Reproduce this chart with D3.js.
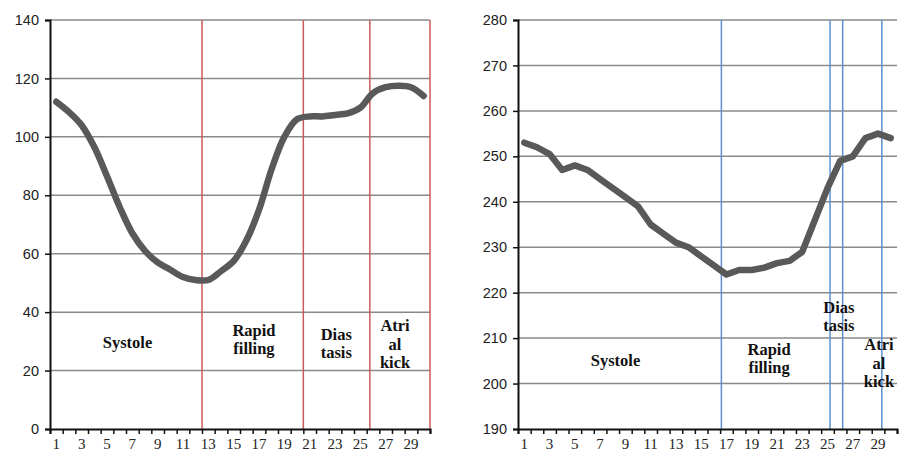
<!DOCTYPE html>
<html><head><meta charset="utf-8">
<script src="https://cdn.jsdelivr.net/npm/d3@7"></script>
<style>
html,body{margin:0;padding:0;background:#fff;}
svg{display:block;}
</style></head>
<body>
<svg id="chart" width="906" height="453"></svg>
<script>
// ---- data ----
const categories = d3.range(1, 31);
const leftValues = [112, 108.5, 104, 96.5, 86.5, 76, 67, 61, 57, 54.5, 52, 51, 51, 54, 57.5, 64.5, 75, 89, 100, 106, 107, 107, 107.5, 108, 110, 115, 117, 117.5, 117, 114];
const rightValues = [253, 252, 250.5, 247, 248, 247, 245, 243, 241, 239, 235, 233, 231, 230, 228, 226, 224, 225, 225, 225.5, 226.5, 227, 229, 236, 243, 249, 250, 254, 255, 254];
const leftYTicks = [0, 20, 40, 60, 80, 100, 120, 140];
const rightYTicks = [190, 200, 210, 220, 230, 240, 250, 260, 270, 280];
const xTickLabels = [1, 3, 5, 7, 9, 11, 13, 15, 17, 19, 21, 23, 25, 27, 29];
// phase boundaries, in category units (0 = left edge of category 1)
const leftPhaseBounds = [12, 20, 25.25, 30];
const rightPhaseBounds = [16.1, 24.7, 25.7, 28.8];
// phase labels: text lines, centre (category units), first baseline (value units)
const leftPhaseLabels = [
  {lines: ["Systole"], c: 6.12, v: 27.7},
  {lines: ["Rapid", "filling"], c: 16.1, v: 31.8},
  {lines: ["Dias", "tasis"], c: 22.6, v: 30.5},
  {lines: ["Atri", "al", "kick"], c: 27.24, v: 33.4}
];
const rightPhaseLabels = [
  {lines: ["Systole"], c: 7.72, v: 203.9},
  {lines: ["Rapid", "filling"], c: 19.87, v: 206.3},
  {lines: ["Dias", "tasis"], c: 25.4, v: 215.5},
  {lines: ["Atri", "al", "kick"], c: 28.57, v: 207.3}
];

const svg = d3.select("#chart");

function panel(opts) {
  const g = svg.append("g");
  const x = d3.scaleLinear().domain([0, categories.length]).range([opts.left, opts.right]);
  const y = d3.scaleLinear().domain([opts.yTicks[0], opts.yTicks[opts.yTicks.length - 1]]).range([opts.bottom, opts.top]);

  // gridlines
  g.append("g").selectAll("line").data(opts.yTicks.slice(1)).join("line")
    .attr("x1", opts.left).attr("x2", opts.right)
    .attr("y1", d => y(d)).attr("y2", d => y(d))
    .attr("stroke", "#8a8a8a").attr("stroke-width", 1.5);

  // phase boundary lines
  g.append("g").selectAll("line").data(opts.bounds).join("line")
    .attr("x1", d => x(d)).attr("x2", d => x(d))
    .attr("y1", y.range()[1]).attr("y2", y.range()[0])
    .attr("stroke", opts.boundColor).attr("stroke-width", 1.5);

  // y axis
  const yAxis = d3.axisLeft(y).tickValues(opts.yTicks).tickSize(5).tickPadding(6).tickFormat(d3.format("d"));
  const ya = g.append("g").attr("transform", `translate(${opts.left},0)`).call(yAxis);
  ya.select(".domain").attr("stroke", "#111").attr("stroke-width", 2);
  ya.selectAll(".tick line").attr("stroke", "#111").attr("stroke-width", 1.5);
  ya.selectAll("text").attr("font-family", "'Liberation Sans', Arial, sans-serif").attr("font-size", 14.5).attr("fill", "#222");

  // x axis
  const xAxis = d3.axisBottom(x).tickValues(d3.range(0, categories.length + 1)).tickSize(5).tickFormat("");
  const xa = g.append("g").attr("transform", `translate(0,${opts.bottom})`).call(xAxis);
  xa.select(".domain").attr("stroke", "#111").attr("stroke-width", 2);
  xa.selectAll(".tick line").attr("stroke", "#111").attr("stroke-width", 1.5);
  g.append("g").selectAll("text").data(xTickLabels).join("text")
    .attr("x", d => x(categories.indexOf(d) + 0.5))
    .attr("y", opts.bottom + 20)
    .attr("text-anchor", "middle")
    .attr("font-family", "'Liberation Serif', 'Times New Roman', serif")
    .attr("font-size", 15).attr("fill", "#222")
    .text(d => d);

  // data line
  const line = d3.line().x((d, i) => x(i + 0.5)).y(d => y(d)).curve(opts.curve);
  g.append("path").datum(opts.values)
    .attr("d", line).attr("fill", "none")
    .attr("stroke", "#595959").attr("stroke-width", 6.5)
    .attr("stroke-linejoin", "round").attr("stroke-linecap", "round");

  // phase labels
  opts.labels.forEach(l => {
    const t = g.append("text")
      .attr("text-anchor", "middle")
      .attr("font-family", "'Liberation Serif', 'Times New Roman', serif")
      .attr("font-weight", "bold").attr("font-size", 16.5).attr("fill", "#111");
    l.lines.forEach((s, i) => {
      t.append("tspan").attr("x", x(l.c)).attr("y", y(l.v) + i * 18.3).text(s);
    });
  });
}

panel({left: 50, right: 430, top: 20, bottom: 429, yTicks: leftYTicks, values: leftValues,
  bounds: leftPhaseBounds, boundColor: "#cc5a5a", labels: leftPhaseLabels, curve: d3.curveCatmullRom.alpha(0.5)});
panel({left: 518, right: 897, top: 20, bottom: 429, yTicks: rightYTicks, values: rightValues,
  bounds: rightPhaseBounds, boundColor: "#5b8fcf", labels: rightPhaseLabels, curve: d3.curveLinear});
</script>
</body></html>
